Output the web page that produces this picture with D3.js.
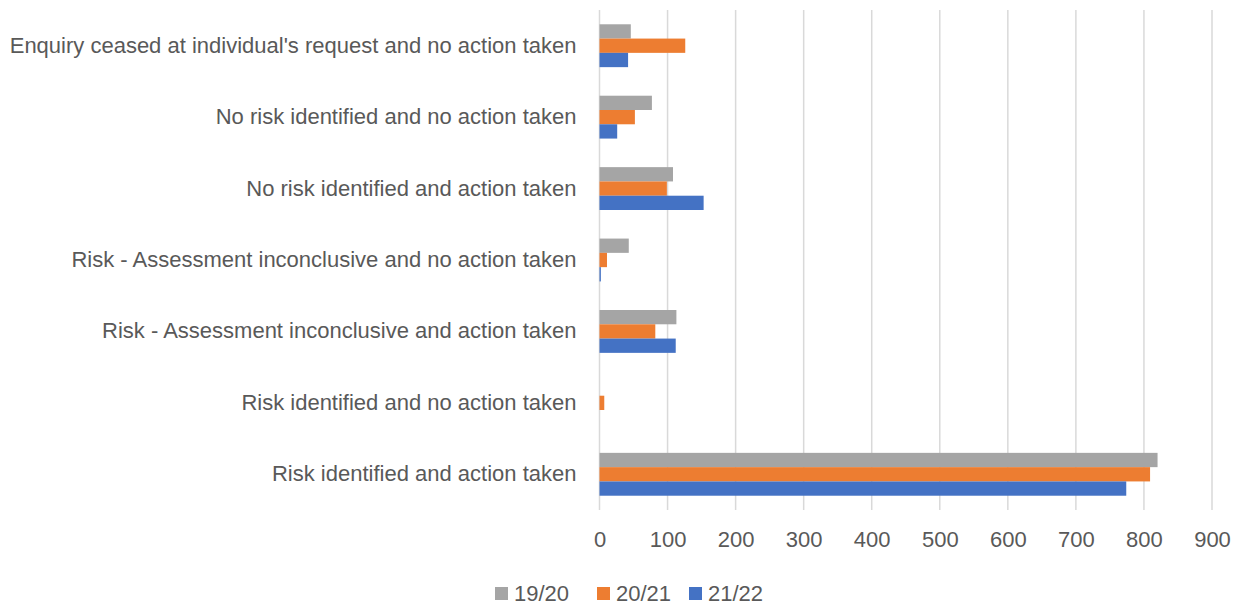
<!DOCTYPE html>
<html>
<head>
<meta charset="utf-8">
<script src="https://cdn.jsdelivr.net/npm/d3@7"></script>
<style>
  body { margin: 0; background: #fff; }
  text { font-family: "Liberation Sans", Arial, sans-serif; fill: #595959; }
</style>
</head>
<body>
<svg id="chart" width="1243" height="606"></svg>
<script>
'use strict'

const categories = [
  "Enquiry ceased at individual's request and no action taken",
  'No risk identified and no action taken',
  'No risk identified and action taken',
  'Risk - Assessment inconclusive and no action taken',
  'Risk - Assessment inconclusive and action taken',
  'Risk identified and no action taken',
  'Risk identified and action taken'
]
const seriesNames = ['19/20', '20/21', '21/22']
const values1920 = [46, 77, 108, 43, 113, 0, 820]
const values2021 = [126, 52, 99, 11, 82, 7, 809]
const values2122 = [42, 26, 153, 2, 112, 0, 774]
const xTicks = [0, 100, 200, 300, 400, 500, 600, 700, 800, 900]
const colors = ['#a5a5a5', '#ed7d31', '#4472c4']

const allValues = [values1920, values2021, values2122]

const margin = { left: 599.5, right: 31, top: 10, bottom: 96 }
const width = 1243
const height = 606

const svg = d3.select('#chart')

// scales
const x = d3.scaleLinear().domain([0, 900]).range([margin.left, width - margin.right])
const y = d3.scaleBand().domain(categories).range([margin.top, height - margin.bottom]).paddingInner(0.4).paddingOuter(0.2)
const ySub = d3.scaleBand().domain(seriesNames).range([0, y.bandwidth()])

// gridlines
svg.append('g')
  .selectAll('line')
  .data(xTicks)
  .enter().append('line')
    .attr('x1', (d) => x(d))
    .attr('x2', (d) => x(d))
    .attr('y1', margin.top)
    .attr('y2', height - margin.bottom)
    .attr('stroke', '#d9d9d9')
    .attr('stroke-width', 1.5)

// bars
seriesNames.forEach((name, s) => {
  svg.append('g')
    .selectAll('rect')
    .data(allValues[s])
    .enter().append('rect')
      .attr('x', x(0))
      .attr('y', (d, i) => y(categories[i]) + ySub(name))
      .attr('width', (d) => x(d) - x(0))
      .attr('height', ySub.bandwidth())
      .attr('fill', colors[s])
})

// x axis labels
const xAxis = d3.axisBottom(x).tickValues(xTicks).tickSize(0).tickPadding(21)
const gx = svg.append('g')
  .attr('transform', 'translate(0,' + (height - margin.bottom) + ')')
  .call(xAxis)
gx.select('.domain').remove()
gx.selectAll('text').style('font-size', '22px').attr('fill', '#595959')

// category labels
const yAxis = d3.axisLeft(y).tickSize(0).tickPadding(23)
const gy = svg.append('g')
  .attr('transform', 'translate(' + margin.left + ',0)')
  .call(yAxis)
gy.select('.domain').remove()
gy.selectAll('text').style('font-size', '22px').attr('fill', '#595959')

// legend
const legendX = [495, 597, 689]
const legend = svg.append('g')
  .selectAll('g')
  .data(seriesNames)
  .enter().append('g')
    .attr('transform', (d, i) => 'translate(' + legendX[i] + ',587)')
legend.append('rect')
  .attr('width', 13)
  .attr('height', 13)
  .attr('fill', (d, i) => colors[i])
legend.append('text')
  .attr('x', 19)
  .attr('y', 14)
  .style('font-size', '22px')
  .text((d) => d)
</script>
</body>
</html>
